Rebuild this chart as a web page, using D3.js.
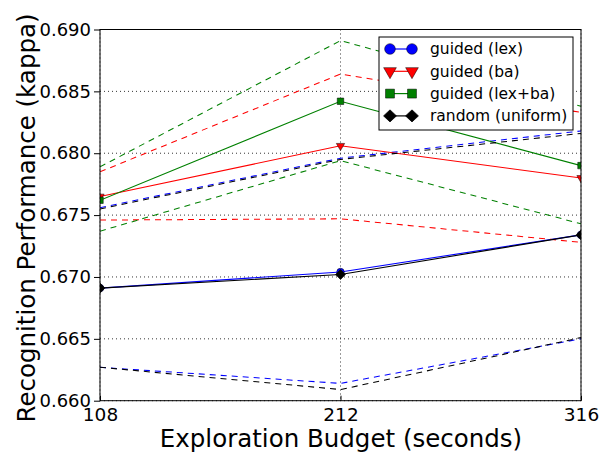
<!DOCTYPE html>
<html><head><meta charset="utf-8">
<script src="https://cdn.jsdelivr.net/npm/d3@7"></script>
<style>html,body{margin:0;padding:0;background:#fff}svg{display:block}text{font-family:"DejaVu Sans",sans-serif;fill:#000}</style>
</head><body>
<svg id="chart" width="600" height="453"></svg>
<script>
const budgets = [108, 212, 316];
const yTicks = [0.660, 0.665, 0.670, 0.675, 0.680, 0.685, 0.690];

const lexMean  = [0.6691, 0.6704, 0.6734];
const lexUpper = [0.6756, 0.6796, 0.6818];
const lexLower = [0.6627, 0.6614, 0.6650];

const baMean  = [0.6765, 0.6806, 0.6780];
const baUpper = [0.6785, 0.6864, 0.6833];
const baLower = [0.6746, 0.6747, 0.6728];

const lexbaMean  = [0.6762, 0.6842, 0.6790];
const lexbaUpper = [0.6789, 0.6891, 0.6838];
const lexbaLower = [0.6737, 0.6794, 0.6743];

const rndMean  = [0.6691, 0.6702, 0.6734];
const rndUpper = [0.6755, 0.6795, 0.6816];
const rndLower = [0.6627, 0.6609, 0.6651];

const seriesNames = ["guided (lex)", "guided (ba)", "guided (lex+ba)", "random (uniform)"];

const series = [
  {name: seriesNames[0], color: "#0000ff", marker: "circle",   mean: lexMean,   upper: lexUpper,   lower: lexLower},
  {name: seriesNames[1], color: "#ff0000", marker: "triangle", mean: baMean,    upper: baUpper,    lower: baLower},
  {name: seriesNames[2], color: "#008000", marker: "square",   mean: lexbaMean, upper: lexbaUpper, lower: lexbaLower},
  {name: seriesNames[3], color: "#000000", marker: "diamond",  mean: rndMean,   upper: rndUpper,   lower: rndLower}
];

const L = 100, R = 581, T = 29.5, B = 400.7;
const svg = d3.select("#chart");
const x = d3.scaleLinear().domain([108, 316]).range([L, R]);
const y = d3.scaleLinear().domain([0.660, 0.690]).range([B, T]);

svg.append("defs").append("clipPath").attr("id", "clip")
  .append("rect").attr("x", L).attr("y", T).attr("width", R - L).attr("height", B - T);

// grid
const grid = svg.append("g");
grid.selectAll("line.gy").data(yTicks).join("line")
  .attr("x1", L).attr("x2", R).attr("y1", d => y(d)).attr("y2", d => y(d))
  .attr("stroke", "#000").attr("stroke-width", 0.8).attr("stroke-dasharray", "1,3");
grid.selectAll("line.gx").data(budgets).join("line")
  .attr("y1", T).attr("y2", B).attr("x1", d => x(d)).attr("x2", d => x(d))
  .attr("stroke", "#000").attr("stroke-width", 0.8).attr("stroke-dasharray", "1,3");

function markerPath(type, s) {
  const sym = {circle: d3.symbolCircle, square: d3.symbolSquare, diamond: d3.symbolDiamond, triangle: d3.symbolTriangle}[type];
  return d3.symbol().type(sym).size(s)();
}
const markerSize = {circle: 45, triangle: 30, square: 42, diamond: 29};
const legendSize = {circle: 90, triangle: 70, square: 80, diamond: 42};
function extra(type, legend) {
  if (type === "triangle") return " rotate(180)";
  if (type === "diamond") return legend ? " scale(1.85,1)" : " scale(1.7,1)";
  return "";
}

const line = d3.line().x((d, i) => x(budgets[i])).y(d => y(d));
const plot = svg.append("g").attr("clip-path", "url(#clip)");
series.forEach(s => {
  [s.upper, s.lower].forEach(arr => {
    plot.append("path").datum(arr).attr("d", line).attr("fill", "none")
      .attr("stroke", s.color).attr("stroke-width", 1.05).attr("stroke-dasharray", "6,5");
  });
  plot.append("path").datum(s.mean).attr("d", line).attr("fill", "none")
    .attr("stroke", s.color).attr("stroke-width", 1.1);
  plot.selectAll(null).data(s.mean).join("path")
    .attr("d", markerPath(s.marker, markerSize[s.marker]))
    .attr("transform", (d, i) => `translate(${x(budgets[i])},${y(d)})` + extra(s.marker, false))
    .attr("fill", s.color).attr("stroke", "#000").attr("stroke-width", 0.5);
});

// frame
svg.append("rect").attr("x", L).attr("y", T).attr("width", R - L).attr("height", B - T)
  .attr("fill", "none").attr("stroke", "#000").attr("stroke-width", 1);

// axes
const yAxis = svg.append("g").attr("transform", `translate(${L},0)`)
  .call(d3.axisLeft(y).tickValues(yTicks).tickFormat(d3.format(".3f")).tickSize(6).tickSizeOuter(0).tickPadding(3));
yAxis.select(".domain").remove();
yAxis.selectAll("text").attr("font-size", 18).attr("font-family", "DejaVu Sans");
yAxis.selectAll("line").attr("stroke", "#000");

const xAxis = svg.append("g").attr("transform", `translate(0,${B})`)
  .call(d3.axisBottom(x).tickValues(budgets).tickFormat(d3.format("d")).tickSize(-5).tickSizeOuter(0).tickPadding(7));
xAxis.select(".domain").remove();
xAxis.selectAll("text").attr("font-size", 18.5).attr("font-family", "DejaVu Sans");
xAxis.selectAll("line").attr("stroke", "#000");

svg.append("text").attr("x", 341).attr("y", 447).attr("text-anchor", "middle")
  .attr("font-size", 24.5).text("Exploration Budget (seconds)");
svg.append("text").attr("transform", "translate(35,218) rotate(-90)").attr("text-anchor", "middle")
  .attr("font-size", 24.5).text("Recognition Performance (kappa)");

// legend
const lg = svg.append("g");
lg.append("rect").attr("x", 379).attr("y", 37).attr("width", 194).attr("height", 93)
  .attr("fill", "#fff").attr("stroke", "#000").attr("stroke-width", 1);
series.forEach((s, i) => {
  const cy = 49 + i * 22.3;
  lg.append("line").attr("x1", 390).attr("x2", 412).attr("y1", cy).attr("y2", cy)
    .attr("stroke", s.color).attr("stroke-width", 1.2);
  [390, 412].forEach(cx => {
    lg.append("path").attr("d", markerPath(s.marker, legendSize[s.marker]))
      .attr("transform", `translate(${cx},${cy})` + extra(s.marker, true))
      .attr("fill", s.color).attr("stroke", "#000").attr("stroke-width", 0.5);
  });
  lg.append("text").attr("x", 430).attr("y", cy).attr("dy", "0.35em")
    .attr("font-size", 15.5).text(s.name);
});
</script>
</body></html>
